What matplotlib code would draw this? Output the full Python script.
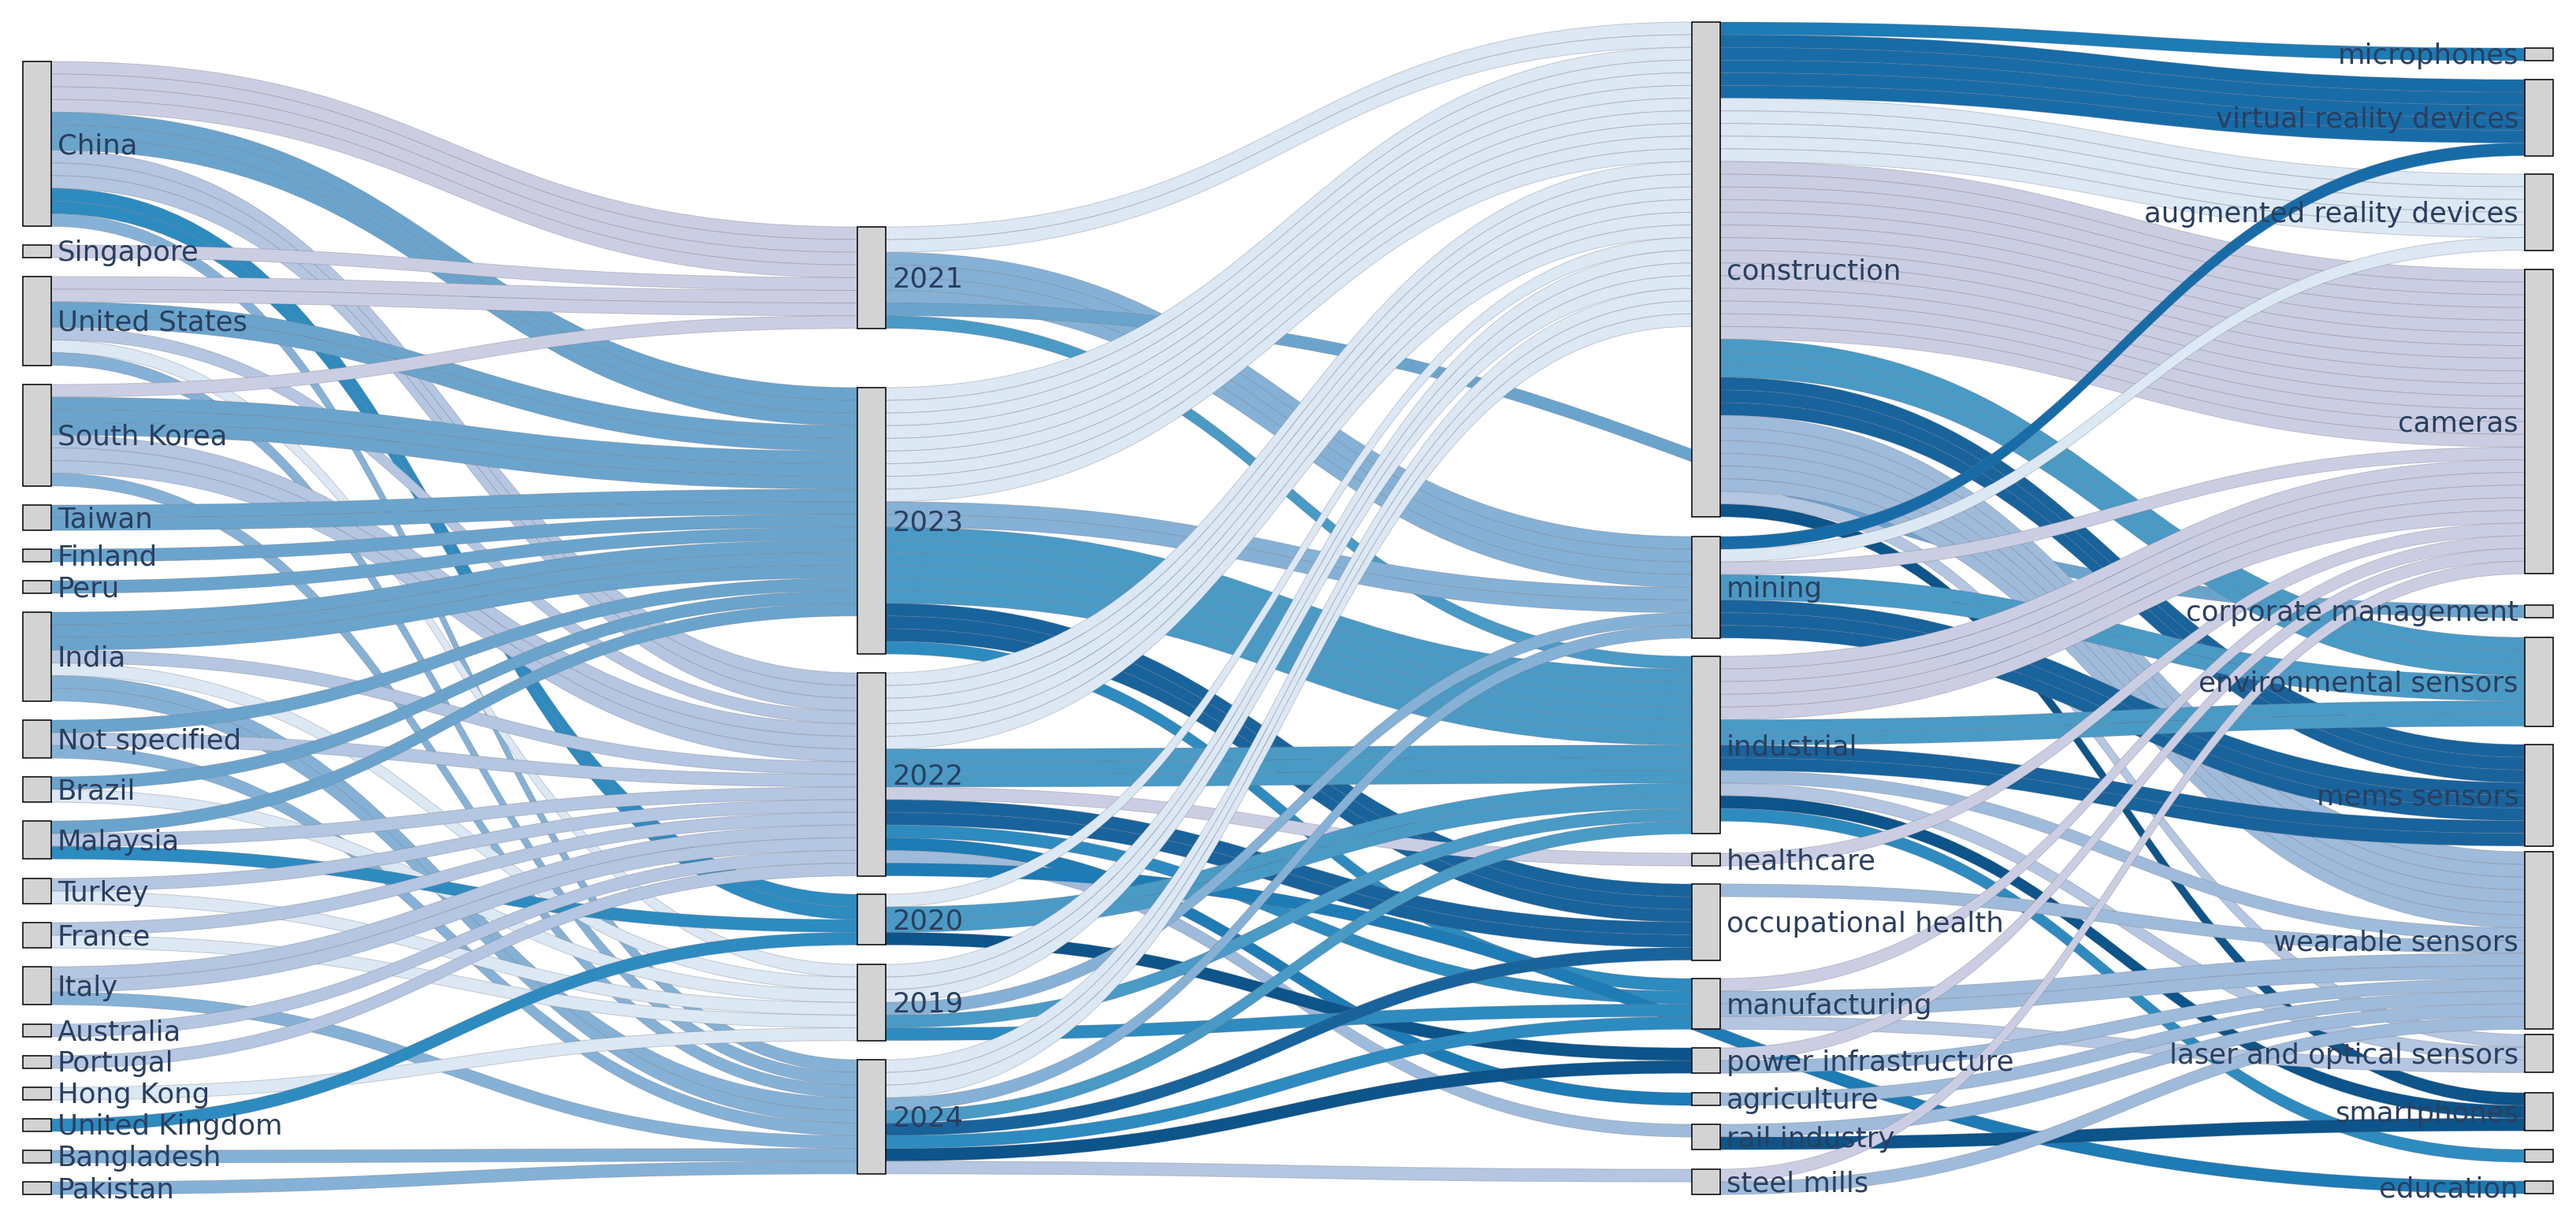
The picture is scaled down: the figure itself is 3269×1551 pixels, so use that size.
import matplotlib
matplotlib.use("Agg")
import matplotlib.pyplot as plt
from matplotlib.path import Path
from matplotlib.patches import PathPatch, Rectangle

# ---------------- data ----------------
countries = ["China", "Singapore", "United States", "South Korea", "Taiwan", "Finland",
             "Peru", "India", "Not specified", "Brazil", "Malaysia", "Turkey", "France",
             "Italy", "Australia", "Portugal", "Hong Kong", "United Kingdom",
             "Bangladesh", "Pakistan"]
years = ["2021", "2023", "2022", "2020", "2019", "2024"]
industries = ["construction", "mining", "industrial", "healthcare", "occupational health",
              "manufacturing", "power infrastructure", "agriculture", "rail industry",
              "steel mills"]
products = ["microphones", "virtual reality devices", "augmented reality devices", "cameras",
            "corporate management", "environmental sensors", "mems sensors",
            "wearable sensors", "laser and optical sensors", "smartphones", "", "education"]

country_year = [
    ("China", "2021", 4), ("China", "2023", 3), ("China", "2022", 3), ("China", "2020", 2),
    ("China", "2024", 1),
    ("Singapore", "2021", 1),
    ("United States", "2021", 2), ("United States", "2023", 2), ("United States", "2022", 1),
    ("United States", "2019", 1), ("United States", "2024", 1),
    ("South Korea", "2021", 1), ("South Korea", "2023", 3), ("South Korea", "2022", 3),
    ("South Korea", "2024", 1),
    ("Taiwan", "2023", 2), ("Finland", "2023", 1), ("Peru", "2023", 1),
    ("India", "2023", 3), ("India", "2022", 1), ("India", "2019", 1), ("India", "2024", 2),
    ("Not specified", "2023", 1), ("Not specified", "2022", 1), ("Not specified", "2024", 1),
    ("Brazil", "2023", 1), ("Brazil", "2019", 1),
    ("Malaysia", "2023", 1), ("Malaysia", "2022", 1), ("Malaysia", "2020", 1),
    ("Turkey", "2022", 1), ("Turkey", "2019", 1),
    ("France", "2022", 1), ("France", "2019", 1),
    ("Italy", "2022", 2), ("Italy", "2024", 1),
    ("Australia", "2022", 1), ("Portugal", "2022", 1), ("Hong Kong", "2019", 1),
    ("United Kingdom", "2020", 1), ("Bangladesh", "2024", 1), ("Pakistan", "2024", 1),
]

year_industry = [
    ("2021", "construction", 2), ("2021", "mining", 4), ("2021", "corporate management", 1),
    ("2021", "industrial", 1),
    ("2023", "construction", 9), ("2023", "mining", 2), ("2023", "industrial", 6),
    ("2023", "occupational health", 3), ("2023", "manufacturing", 1),
    ("2022", "construction", 6), ("2022", "industrial", 3), ("2022", "healthcare", 1),
    ("2022", "occupational health", 2), ("2022", "manufacturing", 1),
    ("2022", "agriculture", 1), ("2022", "rail industry", 1), ("2022", "education", 1),
    ("2020", "construction", 1), ("2020", "industrial", 2), ("2020", "power infrastructure", 1),
    ("2019", "construction", 3), ("2019", "mining", 1), ("2019", "industrial", 1),
    ("2019", "manufacturing", 1),
    ("2024", "construction", 3), ("2024", "mining", 1), ("2024", "industrial", 1),
    ("2024", "occupational health", 1), ("2024", "manufacturing", 1),
    ("2024", "power infrastructure", 1), ("2024", "steel mills", 1),
]

industry_product = [
    ("construction", "microphones", 1), ("construction", "virtual reality devices", 5),
    ("construction", "augmented reality devices", 5), ("construction", "cameras", 14),
    ("construction", "environmental sensors", 3), ("construction", "mems sensors", 3),
    ("construction", "wearable sensors", 6), ("construction", "laser and optical sensors", 1),
    ("construction", "smartphones", 1),
    ("mining", "virtual reality devices", 1), ("mining", "augmented reality devices", 1),
    ("mining", "cameras", 1), ("mining", "environmental sensors", 2), ("mining", "mems sensors", 3),
    ("industrial", "cameras", 5), ("industrial", "environmental sensors", 2),
    ("industrial", "mems sensors", 2), ("industrial", "wearable sensors", 1),
    ("industrial", "laser and optical sensors", 1), ("industrial", "smartphones", 1),
    ("industrial", "", 1),
    ("healthcare", "cameras", 1),
    ("occupational health", "wearable sensors", 1),
    ("manufacturing", "cameras", 1), ("manufacturing", "wearable sensors", 2),
    ("manufacturing", "laser and optical sensors", 1),
    ("power infrastructure", "cameras", 1), ("power infrastructure", "wearable sensors", 1),
    ("agriculture", "wearable sensors", 1),
    ("rail industry", "wearable sensors", 1), ("rail industry", "smartphones", 1),
    ("steel mills", "cameras", 1), ("steel mills", "wearable sensors", 1),
]

# ---------------- style / layout ----------------
LAV, LIGHT, STEEL, WEAR = "#cbcee3", "#dce8f4", "#b4c6e1", "#9fbbdb"
MIN_, MED, IND, MAN = "#85b1d6", "#6aa4cc", "#4a9ac6", "#2d8bc0"
AGR, VR, OCC, PWR = "#1d7bb5", "#176ca8", "#18639c", "#0c548a"
node_color = {
    "2021": LAV, "2023": MED, "2022": STEEL, "2020": MAN, "2019": LIGHT, "2024": MIN_,
    "construction": LIGHT, "mining": MIN_, "industrial": IND, "healthcare": LAV,
    "occupational health": OCC, "manufacturing": MAN, "power infrastructure": PWR,
    "agriculture": AGR, "rail industry": WEAR, "steel mills": STEEL,
    "microphones": AGR, "virtual reality devices": VR, "augmented reality devices": LIGHT,
    "cameras": LAV, "corporate management": MED, "environmental sensors": IND,
    "mems sensors": OCC, "wearable sensors": WEAR, "laser and optical sensors": STEEL,
    "smartphones": PWR, "": MAN, "education": AGR,
}
node_top = {
    "China": 78, "Singapore": 311, "United States": 351, "South Korea": 488, "Taiwan": 641,
    "Finland": 697, "Peru": 737, "India": 777, "Not specified": 914, "Brazil": 986,
    "Malaysia": 1042, "Turkey": 1115, "France": 1171, "Italy": 1227, "Australia": 1300,
    "Portugal": 1340, "Hong Kong": 1380, "United Kingdom": 1420, "Bangladesh": 1460,
    "Pakistan": 1500,
    "2021": 288, "2023": 492, "2022": 854, "2020": 1135, "2019": 1224, "2024": 1345,
    "construction": 28, "mining": 681, "industrial": 833, "healthcare": 1083,
    "occupational health": 1122, "manufacturing": 1242, "power infrastructure": 1330,
    "agriculture": 1387, "rail industry": 1427, "steel mills": 1484,
    "microphones": 61, "virtual reality devices": 101, "augmented reality devices": 221,
    "cameras": 342, "corporate management": 768, "environmental sensors": 809,
    "mems sensors": 945, "wearable sensors": 1081, "laser and optical sensors": 1313,
    "smartphones": 1387, "": 1459, "education": 1499,
}
COL_X = [29, 1088, 2147, 3204]
NODE_W = 36
PLOT_TOP, PLOT_BOT, PAD = 28, 1516, 24
W, H = 3269, 1551
TEXT_COLOR = "#2a3f5f"
FS = 25.6

columns = [countries, years, industries, products]
col_of = {n: i for i, col in enumerate(columns) for n in col}

all_links = country_year + year_industry + industry_product
units = []
for s, t, c in all_links:
    for _ in range(c):
        units.append([s, t])

nodes = [n for col in columns for n in col]
vin = {n: 0 for n in nodes}
vout = {n: 0 for n in nodes}
for s, t in units:
    vout[s] += 1
    vin[t] += 1
value = {n: max(vin[n], vout[n]) for n in nodes}

ky = min((PLOT_BOT - PLOT_TOP - PAD * (len(col) - 1)) / sum(value[n] for n in col)
         for col in columns)

order_idx = {n: i for i, n in enumerate(nodes)}
src_y = {}
tgt_y = {}
for n in nodes:
    outs = [i for i, (s, t) in enumerate(units) if s == n]
    outs.sort(key=lambda i: (node_top[units[i][1]], order_idx[units[i][1]], i))
    y = node_top[n]
    for i in outs:
        src_y[i] = y
        y += ky
    ins = [i for i, (s, t) in enumerate(units) if t == n]
    ins.sort(key=lambda i: (node_top[units[i][0]], order_idx[units[i][0]], i))
    y = node_top[n]
    for i in ins:
        tgt_y[i] = y
        y += ky

fig = plt.figure(figsize=(W / 100, H / 100), dpi=100)
ax = fig.add_axes([0, 0, 1, 1])
ax.set_xlim(0, W)
ax.set_ylim(H, 0)
ax.axis("off")

for i, (s, t) in enumerate(units):
    x0 = COL_X[col_of[s]] + NODE_W
    x1 = COL_X[col_of[t]]
    xm = (x0 + x1) / 2
    y0, y1 = src_y[i], tgt_y[i]
    verts = [(x0, y0), (xm, y0), (xm, y1), (x1, y1),
             (x1, y1 + ky), (xm, y1 + ky), (xm, y0 + ky), (x0, y0 + ky), (x0, y0)]
    codes = [Path.MOVETO, Path.CURVE4, Path.CURVE4, Path.CURVE4,
             Path.LINETO, Path.CURVE4, Path.CURVE4, Path.CURVE4, Path.CLOSEPOLY]
    ax.add_patch(PathPatch(Path(verts, codes), facecolor=node_color[t],
                           edgecolor=(0.45, 0.45, 0.5, 0.35), lw=0.7, zorder=1))

for n in nodes:
    c = col_of[n]
    x = COL_X[c]
    top = node_top[n]
    h = value[n] * ky
    ax.add_patch(Rectangle((x, top), NODE_W, h, facecolor="#d3d3d3",
                           edgecolor="black", lw=1.1, zorder=3))
    yb = top + h / 2 + 0.35 * FS * 100 / 72
    if c < 3:
        ax.text(x + NODE_W + 8, yb, n, ha="left", va="baseline", fontsize=FS,
                color=TEXT_COLOR, family="DejaVu Sans", zorder=4)
    else:
        ax.text(x - 8, yb, n, ha="right", va="baseline", fontsize=FS,
                color=TEXT_COLOR, family="DejaVu Sans", zorder=4)

fig.savefig("out.png", dpi=100, facecolor="white")
